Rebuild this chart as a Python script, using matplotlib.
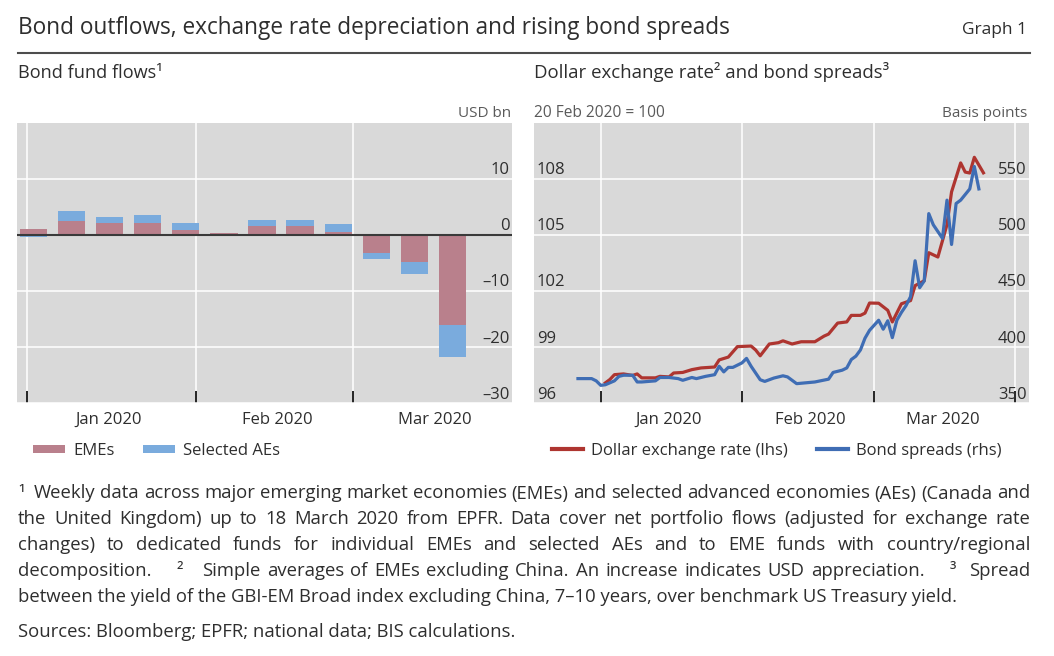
import matplotlib
matplotlib.use('Agg')
import matplotlib.pyplot as plt
import matplotlib.dates as mdates
import matplotlib.transforms as mtransforms
from matplotlib.lines import Line2D
from matplotlib.ticker import NullFormatter
import pandas as pd

# weekly bond fund flows, USD bn (weeks ending Wednesday)
flow_weeks = ['2020-01-01', '2020-01-08', '2020-01-15', '2020-01-22', '2020-01-29', '2020-02-05',
              '2020-02-12', '2020-02-19', '2020-02-26', '2020-03-04', '2020-03-11', '2020-03-18']
flows_emes = [1.1, 2.5, 2.2, 2.2, 0.9, 0.4, 1.6, 1.6, 0.5, -3.3, -4.9, -16.0]
flows_aes = [-0.4, 1.8, 1.0, 1.3, 1.3, 0.0, 1.1, 1.1, 1.4, -1.0, -2.0, -5.8]

# dollar exchange rate, 20 Feb 2020 = 100
fx_dates = ['2020-01-02', '2020-01-03', '2020-01-04', '2020-01-06', '2020-01-08', '2020-01-09',
            '2020-01-10', '2020-01-13', '2020-01-14', '2020-01-16', '2020-01-17', '2020-01-19',
            '2020-01-21', '2020-01-23', '2020-01-26', '2020-01-27', '2020-01-29', '2020-01-31',
            '2020-02-03', '2020-02-04', '2020-02-05', '2020-02-07', '2020-02-09', '2020-02-10',
            '2020-02-12', '2020-02-14', '2020-02-17', '2020-02-19', '2020-02-20', '2020-02-22',
            '2020-02-24', '2020-02-25', '2020-02-27', '2020-02-28', '2020-02-29', '2020-03-02',
            '2020-03-04', '2020-03-05', '2020-03-07', '2020-03-09', '2020-03-10', '2020-03-12',
            '2020-03-13', '2020-03-15', '2020-03-17', '2020-03-18', '2020-03-20', '2020-03-21',
            '2020-03-22', '2020-03-23', '2020-03-25']
fx_index = [97.09, 97.27, 97.53, 97.57, 97.49, 97.57,
            97.36, 97.36, 97.44, 97.41, 97.62, 97.65,
            97.80, 97.89, 97.94, 98.32, 98.47, 99.03,
            99.06, 98.85, 98.54, 99.17, 99.24, 99.34,
            99.17, 99.29, 99.29, 99.59, 99.70, 100.29,
            100.35, 100.70, 100.70, 100.82, 101.36, 101.35,
            100.97, 100.35, 101.32, 101.49, 102.29, 102.55,
            104.05, 103.82, 105.55, 107.30, 108.85, 108.36,
            108.31, 109.15, 108.32]

# bond spreads, basis points
spread_dates = ['2019-12-27', '2019-12-30', '2019-12-31', '2020-01-01', '2020-01-02', '2020-01-04',
                '2020-01-05', '2020-01-06', '2020-01-08', '2020-01-09', '2020-01-10', '2020-01-13',
                '2020-01-14', '2020-01-16', '2020-01-18', '2020-01-19', '2020-01-21', '2020-01-22',
                '2020-01-24', '2020-01-26', '2020-01-27', '2020-01-28', '2020-01-29', '2020-01-30',
                '2020-02-01', '2020-02-02', '2020-02-03', '2020-02-05', '2020-02-06', '2020-02-08',
                '2020-02-10', '2020-02-11', '2020-02-13', '2020-02-17', '2020-02-20', '2020-02-21',
                '2020-02-23', '2020-02-24', '2020-02-25', '2020-02-26', '2020-02-27', '2020-02-28',
                '2020-02-29', '2020-03-02', '2020-03-03', '2020-03-04', '2020-03-05', '2020-03-06',
                '2020-03-07', '2020-03-08', '2020-03-09', '2020-03-10', '2020-03-11', '2020-03-12',
                '2020-03-13', '2020-03-14', '2020-03-16', '2020-03-17', '2020-03-18', '2020-03-19',
                '2020-03-20', '2020-03-22', '2020-03-23', '2020-03-24']
spreads = [372, 372, 370, 366, 366.5, 370,
           374, 375, 375, 369, 369, 370,
           373, 373, 372, 370.5, 373, 372,
           374, 375.5, 383, 378, 382, 382,
           386, 390, 383, 371, 369.5, 372.5,
           374.5, 373.5, 367.5, 369, 371.5, 377.5,
           379.5, 381.5, 389, 392, 397.5, 408,
           415, 424, 416, 423.5, 408.5, 424,
           431, 437, 445, 477, 453, 459,
           519, 509, 497, 531, 491.5, 528,
           531, 541, 561, 541]

flow_ticks = [-30, -20, -10, 0, 10]
fx_ticks = [96, 99, 102, 105, 108]
spread_ticks = [350, 400, 450, 500, 550]

title = 'Bond outflows, exchange rate depreciation and rising bond spreads'
footnote_lines = [
    '\u00b9  Weekly data across major emerging market economies (EMEs) and selected advanced economies (AEs) (Canada and',
    'the United Kingdom) up to 18 March 2020 from EPFR. Data cover net portfolio flows (adjusted for exchange rate',
    'changes) to dedicated funds for individual EMEs and selected AEs and to EME funds with country/regional',
    'decomposition.    \u00b2   Simple averages of EMEs excluding China. An increase indicates USD appreciation.    \u00b3  Spread',
    'between the yield of the GBI-EM Broad index excluding China, 7\u201310 years, over benchmark US Treasury yield.',
]
sources = 'Sources: Bloomberg; EPFR; national data; BIS calculations.'

W, H = 1054, 656
BG = '#d9d9d9'
TXT = '#2e2e2e'
GREY_TXT = '#5a5a5a'
PINK = '#b9808c'
LIGHT_BLUE = '#7aabdd'
RED = '#ae3530'
BLUE = '#3f6db4'

plt.rcParams['font.family'] = ['Open Sans', 'DejaVu Sans']
plt.rcParams['text.color'] = TXT


def fx(px):
    return px / W


def fy(py):
    return 1 - py / H


def style_panel(ax):
    ax.set_facecolor(BG)
    for s in ax.spines.values():
        s.set_visible(False)
    ax.set_axisbelow(True)
    ax.grid(True, which='major', color='white', linewidth=1.1)
    ax.xaxis.set_major_locator(mdates.MonthLocator())
    ax.xaxis.set_major_formatter(NullFormatter())
    ax.xaxis.set_minor_locator(mdates.MonthLocator(bymonthday=16))
    ax.xaxis.set_minor_formatter(mdates.DateFormatter('%b %Y'))
    ax.tick_params(axis='x', which='major', direction='in', length=8.5, width=1.2, color='black')
    ax.tick_params(axis='x', which='minor', length=0, pad=6.5, labelsize=12, labelcolor=TXT)
    ax.tick_params(axis='y', length=0, labelleft=False, labelright=False)


def tick_text(ax, values, xpos, ha):
    trans = mtransforms.blended_transform_factory(ax.transAxes, ax.transData)
    trans = trans + mtransforms.ScaledTranslation(0, 3.3 / 72, ax.figure.dpi_scale_trans)
    for v in values:
        ax.text(xpos, v, str(v).replace('-', '\u2013'), transform=trans, ha=ha, va='baseline',
                fontsize=12, color=TXT)


fig = plt.figure(figsize=(W / 100, H / 100), dpi=100)

# left panel: bond fund flows
ax1 = fig.add_axes([fx(17.3), fy(403.3), (511.7 - 17.3) / W, (403.3 - 122.7) / H])
style_panel(ax1)
x_flows = pd.to_datetime(flow_weeks) + pd.Timedelta(hours=29)
ae_bottom = [e if (a >= 0) == (e >= 0) else 0 for e, a in zip(flows_emes, flows_aes)]
bars_e = ax1.bar(x_flows, flows_emes, width=5, color=PINK, zorder=2)
bars_a = ax1.bar(x_flows, flows_aes, bottom=ae_bottom, width=5, color=LIGHT_BLUE, zorder=2)
ax1.axhline(0, color='#3a3a3a', linewidth=1.5, zorder=3)
ax1.set_yticks(flow_ticks)
ax1.set_ylim(-30, 20)
ax1.set_xlim(pd.Timestamp('2019-12-30 06:00'), pd.Timestamp('2020-03-30 02:00'))
tick_text(ax1, flow_ticks, 0.9966, 'right')

# right panel: exchange rate and spreads
ax2 = fig.add_axes([fx(534.3), fy(403.3), (1029 - 534.3) / W, (403.3 - 122.7) / H])
style_panel(ax2)
line_fx, = ax2.plot(pd.to_datetime(fx_dates), fx_index, color=RED, linewidth=2.3,
                    solid_joinstyle='round')
ax2.set_yticks(fx_ticks)
ax2.set_ylim(96, 111)
ax2.set_xlim(pd.Timestamp('2019-12-17 10:00'), pd.Timestamp('2020-04-04 00:00'))
tick_text(ax2, fx_ticks, 0.0055, 'left')

ax3 = ax2.twinx()
for s in ax3.spines.values():
    s.set_visible(False)
line_sp, = ax3.plot(pd.to_datetime(spread_dates), spreads, color=BLUE, linewidth=2.3,
                    solid_joinstyle='round')
ax3.set_ylim(350, 600)
ax3.set_yticks(spread_ticks)
ax3.tick_params(axis='y', length=0, labelright=False, labelleft=False)
tick_text(ax3, spread_ticks, 0.9956, 'right')

# titles and units
fig.text(fx(18), fy(33.5), title, fontsize=16.3, va='baseline')
fig.text(fx(1027.5), fy(33.5), 'Graph 1', fontsize=12.5, ha='right', va='baseline')
fig.add_artist(Line2D([fx(18), fx(1030)], [fy(52.5), fy(52.5)], color='#4d4d4d', linewidth=1.5))
fig.text(fx(18), fy(78.5), 'Bond fund flows\u00b9', fontsize=13.1, va='baseline')
fig.text(fx(533.6), fy(78.5), 'Dollar exchange rate\u00b2 and bond spreads\u00b3', fontsize=13.4,
         va='baseline')
fig.text(fx(511), fy(117), 'USD bn', fontsize=11, ha='right', va='baseline', color=GREY_TXT)
fig.text(fx(533.6), fy(117), '20 Feb 2020 = 100', fontsize=11.2, va='baseline', color=GREY_TXT)
fig.text(fx(1027), fy(117), 'Basis points', fontsize=11, ha='right', va='baseline', color=GREY_TXT)

# legends
leg_kw = dict(loc='center left', ncol=2, frameon=False, borderpad=0, borderaxespad=0,
              fontsize=12, labelcolor=TXT)
fig.legend([bars_e, bars_a], ['EMEs', 'Selected AEs'], bbox_to_anchor=(fx(33), fy(451)),
           handlelength=1.92, handleheight=0.42, handletextpad=0.48, columnspacing=1.74, **leg_kw)
leg2 = fig.legend([line_fx, line_sp], ['Dollar exchange rate (lhs)', 'Bond spreads (rhs)'],
                  bbox_to_anchor=(fx(551.7), fy(451)), handlelength=1.9, handletextpad=0.44,
                  columnspacing=1.76, **leg_kw)
for h in leg2.get_lines():
    h.set_linewidth(3)

# footnotes, justified like the original
renderer = fig.canvas.get_renderer()


def justify(text, y, x0, x1, size):
    words = text.split(' ')
    items = [fig.text(0, fy(y), w, fontsize=size, va='baseline') for w in words]
    widths = [t.get_window_extent(renderer).width if w else 0 for t, w in zip(items, words)]
    gap = (x1 - x0 - sum(widths)) / (len(items) - 1)
    x = x0
    for t, w in zip(items, widths):
        t.set_x(fx(x))
        x += w + gap


FOOT_SIZE = 13.3
for i, line in enumerate(footnote_lines):
    y = 498.5 + i * 25.85
    if i < len(footnote_lines) - 1:
        justify(line, y, 18, 1030, FOOT_SIZE)
    else:
        fig.text(fx(18), fy(y), line, fontsize=FOOT_SIZE, va='baseline')
fig.text(fx(18), fy(637), sources, fontsize=FOOT_SIZE, va='baseline')

fig.savefig('out.png', dpi=100)
